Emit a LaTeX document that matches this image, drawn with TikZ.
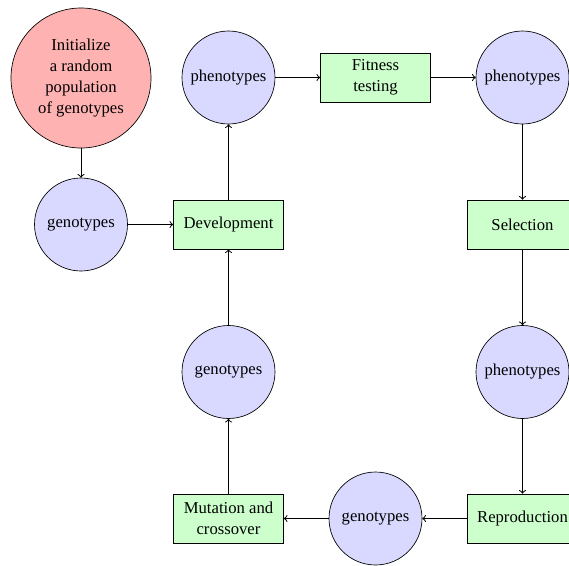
\documentclass[tikz,border=0pt]{standalone}
\usepackage{fontspec}
\setmainfont{Liberation Serif}
\begin{document}
\begin{tikzpicture}[x=0.6pt,y=-0.6pt,
  every node/.style={font=\fontsize{10}{12.6}\selectfont},
  initc/.style={circle,draw,fill=red!30,minimum size=84pt,inner sep=0pt,align=center},
  datac/.style={circle,draw,fill=blue!15,minimum size=55.8pt,inner sep=0pt,align=center},
  opbox/.style={rectangle,draw,fill=green!20,minimum width=66pt,minimum height=29.4pt,inner sep=1pt,align=center},
  link/.style={->,semithick}]
\clip (0,0) rectangle (569,565);
\fill[white] (0,0) rectangle (569,565);
\node[initc] (init) at (81,78) {Initialize\\a random\\population\\of genotypes};
\node[datac] (g1) at (81,224.5) {genotypes};
\node[opbox] (dev) at (228.5,224.5) {Development};
\node[datac] (p1) at (228.5,77.5) {phenotypes};
\node[opbox] (fit) at (375.5,77.5) {Fitness\\testing};
\node[datac] (p2) at (522.5,77.5) {phenotypes};
\node[opbox] (sel) at (522.5,224.5) {Selection};
\node[datac] (p3) at (522.5,372) {phenotypes};
\node[opbox] (rep) at (522.5,518.5) {Reproduction};
\node[datac] (g3) at (375.5,518.5) {genotypes};
\node[opbox] (mut) at (228.5,518.5) {Mutation and\\crossover};
\node[datac] (g2) at (228.5,372) {genotypes};
\draw[link] (init) -- (g1);
\draw[link] (g1) -- (dev);
\draw[link] (dev) -- (p1);
\draw[link] (p1) -- (fit);
\draw[link] (fit) -- (p2);
\draw[link] (p2) -- (sel);
\draw[link] (sel) -- (p3);
\draw[link] (p3) -- (rep);
\draw[link] (rep) -- (g3);
\draw[link] (g3) -- (mut);
\draw[link] (mut) -- (g2);
\draw[link] (g2) -- (dev);
\end{tikzpicture}
\end{document}
